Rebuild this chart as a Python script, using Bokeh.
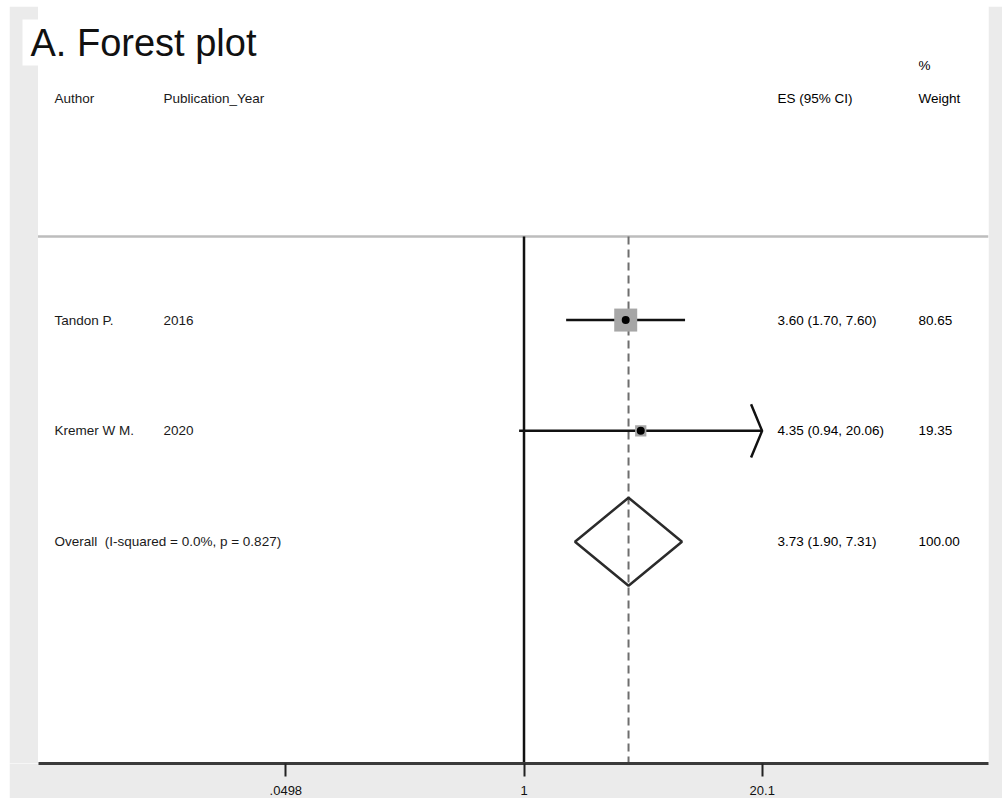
import numpy as np
from bokeh.plotting import figure
from bokeh.models import (Range1d, FixedTicker, CustomJSTickFormatter, Label,
                          ColumnDataSource)
from bokeh.core.properties import value
from bokeh.embed import file_html
from bokeh.resources import INLINE

# ---- study data -------------------------------------------------------
title = "A. Forest plot"
authors = ["Tandon P.", "Kremer W M."]
years = ["2016", "2020"]
es = [3.60, 4.35]
ci_lo = [1.70, 0.94]
ci_hi = [7.60, 20.06]
weights = [80.65, 19.35]
ci_truncated = [False, True]

overall_es = 3.73
overall_lo = 1.90
overall_hi = 7.31
i_squared = 0.0
p_het = 0.827

tick_values = [0.0498, 1, 20.1]
tick_labels = [".0498", "1", "20.1"]

# ---- layout constants (x in log-effect units, y in row units) ----------
FONT = "Liberation Sans"
GRAPH_BG = "#ebebeb"
study_rows = [2, 3]
overall_row = 4
header_row = 0
rule_row = 1.245
x_author, x_year, x_es, x_weight = -5.913, -4.540, 3.193, 4.969
x_canvas_left, x_plot_left, x_plot_right = -6.480, -6.121, 5.850
y_top, y_bottom = -0.830, 6.002

p = figure(width=993, height=792, output_backend="svg", toolbar_location=None,
           x_range=Range1d(x_canvas_left, x_plot_right),
           y_range=Range1d(y_bottom, y_top),
           y_axis_location=None, min_border_left=0, min_border_right=14,
           min_border_top=0, min_border_bottom=35)
p.margin = (6, 0, 0, 9)
p.background_fill_color = "white"
p.border_fill_color = GRAPH_BG
p.outline_line_color = None
p.xgrid.visible = False
p.ygrid.visible = False

# graph-region strip to the left of the plot region
p.quad(left=[x_canvas_left], right=[x_plot_left], top=[y_top],
       bottom=[y_bottom], fill_color=GRAPH_BG, line_color=None)

# x axis: log scale labelled with effect sizes
ax = p.xaxis[0]
ax.bounds = (x_plot_left, x_plot_right)
ax.ticker = FixedTicker(ticks=list(np.log(tick_values)))
ax.formatter = CustomJSTickFormatter(args=dict(labels=tick_labels),
                                     code="return labels[index]")
ax.axis_line_width = 3
ax.axis_line_color = "#3a3a3a"
ax.major_tick_line_width = 2
ax.major_tick_line_color = "#222222"
ax.major_tick_out = 13
ax.major_tick_in = 0
ax.minor_tick_line_color = None
ax.major_label_standoff = 9
ax.major_label_text_font = FONT
ax.major_label_text_font_size = "13px"
ax.major_label_text_color = "#111111"

# header separator
p.segment(x0=[x_plot_left], y0=[rule_row], x1=[x_plot_right], y1=[rule_row],
          line_color="#bdbdbd", line_width=2.5)

# null line and overall-effect line
p.segment(x0=[0], y0=[rule_row], x1=[0], y1=[y_bottom],
          line_color="#111111", line_width=2.5)
p.segment(x0=[np.log(overall_es)], y0=[rule_row], x1=[np.log(overall_es)],
          y1=[y_bottom], line_color="#6e6e6e", line_width=2, line_dash="8 5")

# study estimates
lx = np.log(es)
src = ColumnDataSource(dict(
    x=lx, y=study_rows, lo=np.log(ci_lo), hi=np.log(ci_hi),
    box=2.56 * np.sqrt(weights),
))
p.segment(x0="lo", y0="y", x1="hi", y1="y", source=src,
          line_color="#111111", line_width=2.5)
p.scatter(x="x", y="y", size="box", marker="square", source=src,
          fill_color="#a6a6a6", line_color=None)
p.scatter(x="x", y="y", size=8, marker="circle", source=src,
          fill_color="black", line_color=None)

# arrow heads for intervals running past the axis
arrow_xs, arrow_ys = [], []
for h, r, t in zip(ci_hi, study_rows, ci_truncated):
    if t:
        tip = np.log(h)
        arrow_xs.append([tip - 0.139, tip, tip - 0.139])
        arrow_ys.append([r - 0.24, r, r + 0.24])
p.multi_line(xs=arrow_xs, ys=arrow_ys, line_color="#111111", line_width=2.5)

# pooled estimate diamond
p.patch(x=[np.log(overall_lo), np.log(overall_es), np.log(overall_hi),
           np.log(overall_es), np.log(overall_lo)],
        y=[overall_row, overall_row - 0.397, overall_row, overall_row + 0.397,
           overall_row],
        fill_color=None, line_color="#2b2b2b", line_width=2.5)

# text columns
es_text = [f"{e:.2f} ({l:.2f}, {h:.2f})" for e, l, h in zip(es, ci_lo, ci_hi)]
w_text = [f"{w:.2f}" for w in weights]
overall_text = f"{overall_es:.2f} ({overall_lo:.2f}, {overall_hi:.2f})"
overall_label = f"Overall\u00a0 (I-squared = {i_squared:.1f}%, p = {p_het:.3f})"

def column(x, ys, texts, color="#000000"):
    p.text(x=[x] * len(ys), y=ys, text=texts, text_font=value(FONT),
           text_font_size="13.5px", text_color=color,
           text_align="left", text_baseline="middle")

column(x_author, [header_row] + study_rows + [overall_row],
       ["Author"] + authors + [overall_label], "#1a1a1a")
column(x_year, [header_row] + study_rows,
       ["Publication_Year"] + years, "#1a1a1a")
column(x_es, [header_row] + study_rows + [overall_row],
       ["ES (95% CI)"] + es_text + [overall_text])
column(x_weight, [-0.298, header_row] + study_rows + [overall_row],
       ["%", "Weight"] + w_text + ["100.00"])

# panel title on a white box
p.add_layout(Label(x=-6.316, y=-0.505, text=title, text_font=FONT,
                   text_font_size="38px", text_color="#111111",
                   text_align="left", text_baseline="middle",
                   background_fill_color="white", padding=(8, 2)))

open("out.html", "w").write(file_html(p, INLINE))
